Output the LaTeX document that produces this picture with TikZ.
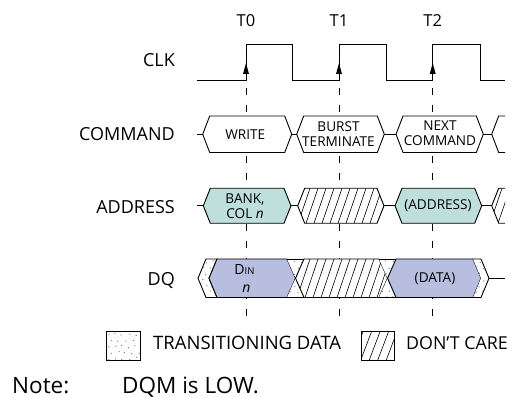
\documentclass[tikz,border=0pt]{standalone}
\usepackage{fontspec}
\setmainfont{Open Sans}
\definecolor{addrfill}{HTML}{BEDFDC}
\definecolor{datafill}{HTML}{B8BEDF}
\definecolor{dotc}{HTML}{7A7A7A}
\newcommand\dotsin[4]{%
  \foreach \ii in {0,...,#3}{\foreach \jj in {0,...,#4}{%
    \pgfmathsetmacro\xx{#1+\ii*7+mod(\jj,2)*3.5+rand*1.2}%
    \pgfmathsetmacro\yy{#2+\jj*6+rand*1.2}%
    \fill[dotc] (\xx,\yy) circle (0.65);}}}
\begin{document}
\begin{tikzpicture}[x=1pt,y=-1pt,
  sig/.style={line width=0.9pt,line join=miter},
  hatchln/.style={line width=0.6pt},
  tline/.style={line width=0.8pt,dash pattern=on 7pt off 10pt},
  lab/.style={inner sep=0pt,font=\fontsize{18}{20}\selectfont},
  tlab/.style={inner sep=0pt,font=\fontsize{16.5}{18}\selectfont},
  intext/.style={inner sep=0pt,align=center,font=\fontsize{13.6}{15}\selectfont},
  leg/.style={inner sep=0pt,font=\fontsize{18.5}{20}\selectfont},
  notetext/.style={inner sep=0pt,font=\fontsize{22.5}{24}\selectfont}]
\useasboundingbox (0,0) rectangle (517,398);
\pgfmathsetseed{11}

% time labels
\node[tlab] (t0) at (246,20.8) {T0};
\node[tlab] (t1) at (339,20.8) {T1};
\node[tlab] (t2) at (432.7,20.8) {T2};

% signal labels
\node[lab,anchor=base east] (clk) at (175,66.4) {CLK};
\node[lab,anchor=base east] (cmd) at (175,140.6) {COMMAND};
\node[lab,anchor=base east] (addr) at (175,213.1) {ADDRESS};
\node[lab,anchor=base east] (dq) at (175,285.7) {DQ};

% dashed time lines
\draw[tline] (246,88) -- (246,325);
\draw[tline] (339,88) -- (339,325);
\draw[tline] (432.7,88) -- (432.7,325);

% clock
\draw[sig] (196.7,80) -- (246,80) -- (246,44.3) -- (292.3,44.3) -- (292.3,80)
  -- (339,80) -- (339,44.3) -- (386,44.3) -- (386,80)
  -- (432.7,80) -- (432.7,44.3) -- (480,44.3) -- (480,80) -- (505,80);
\fill (246,63) -- (243,74) -- (249,74) -- cycle;
\fill (339,63) -- (336,74) -- (342,74) -- cycle;
\fill (432.7,63) -- (429.7,74) -- (435.7,74) -- cycle;

% COMMAND row
\draw[sig] (196.7,134.25) -- (202.7,134.25);
\draw[sig,fill=white] (202.7,134.25) -- (209.7,116) -- (284.7,116) -- (291.7,134.25) -- (284.7,152.5) -- (209.7,152.5) -- cycle;
\draw[sig] (291.7,134.25) -- (296.7,134.25);
\draw[sig,fill=white] (296.7,134.25) -- (303.7,116) -- (377.3,116) -- (384.3,134.25) -- (377.3,152.5) -- (303.7,152.5) -- cycle;
\draw[sig] (384.3,134.25) -- (396,134.25);
\draw[sig,fill=white] (396,134.25) -- (403,116) -- (476.3,116) -- (483.3,134.25) -- (476.3,152.5) -- (403,152.5) -- cycle;
\draw[sig] (483.3,134.25) -- (491.7,134.25);
\draw[sig] (505,116) -- (498.7,116) -- (491.7,134.25) -- (498.7,152.5) -- (505,152.5);
\node[intext] (write) at (245.3,134.25) {WRITE};
\node[intext] (bt) at (338.5,133.6) {BURST\\TERMINATE};
\node[intext] (nc) at (440,133.6) {NEXT\\COMMAND};

% ADDRESS row
\draw[sig] (196.7,205.8) -- (203.3,205.8);
\draw[sig,fill=addrfill] (203.3,205.8) -- (210.3,188.3) -- (284,188.3) -- (291,205.8) -- (284,223.3) -- (210.3,223.3) -- cycle;
\draw[sig] (291,205.8) -- (297.7,205.8);
\fill[white] (297.7,205.8) -- (304.7,188.3) -- (377,188.3) -- (384,205.8) -- (377,223.3) -- (304.7,223.3) -- cycle;
\begin{scope}
  \clip (297.7,205.8) -- (304.7,188.3) -- (377,188.3) -- (384,205.8) -- (377,223.3) -- (304.7,223.3) -- cycle;
  \foreach \k in {282,290,...,386} \draw[hatchln] (\k,223.3) -- (\k+12,188.3);
\end{scope}
\draw[sig] (297.7,205.8) -- (304.7,188.3) -- (377,188.3) -- (384,205.8) -- (377,223.3) -- (304.7,223.3) -- cycle;
\draw[sig] (384,205.8) -- (395,205.8);
\draw[sig,fill=addrfill] (395,205.8) -- (402,188.3) -- (474.7,188.3) -- (481.7,205.8) -- (474.7,223.3) -- (402,223.3) -- cycle;
\draw[sig] (481.7,205.8) -- (491.7,205.8);
\fill[white] (505,188.3) -- (498.7,188.3) -- (491.7,205.8) -- (498.7,223.3) -- (505,223.3) -- cycle;
\begin{scope}
  \clip (505,188.3) -- (498.7,188.3) -- (491.7,205.8) -- (498.7,223.3) -- (505,223.3) -- cycle;
  \foreach \k in {482,490,498} \draw[hatchln] (\k,223.3) -- (\k+12,188.3);
\end{scope}
\draw[sig] (505,188.3) -- (498.7,188.3) -- (491.7,205.8) -- (498.7,223.3) -- (505,223.3);
\node[intext] (bank) at (245,206) {BANK,\\COL \textit{n}};
\node[intext] (addrtxt) at (438,205.8) {(ADDRESS)};

% DQ row
% left transitioning chevron
\fill[white] (198,278.25) -- (206,259) -- (217,259) -- (209,278.25) -- (217,297.5) -- (206,297.5) -- cycle;
\begin{scope}
  \clip (198,278.25) -- (206,259) -- (217,259) -- (209,278.25) -- (217,297.5) -- (206,297.5) -- cycle;
  \dotsin{199}{262}{2}{6}
\end{scope}
\draw[sig] (198,278.25) -- (206,259) -- (217,259) -- (209,278.25) -- (217,297.5) -- (206,297.5) -- cycle;
% Din
\draw[sig,fill=datafill] (209,278.25) -- (217,259) -- (287,259) -- (295.5,278.25) -- (287,297.5) -- (217,297.5) -- cycle;
% X1 transition
\fill[white] (287,259) -- (304,259) -- (295.5,278.25) -- cycle (287,297.5) -- (304,297.5) -- (295.5,278.25) -- cycle;
\begin{scope}
  \clip (287,259) -- (304,259) -- (295.5,278.25) -- cycle (287,297.5) -- (304,297.5) -- (295.5,278.25) -- cycle;
  \dotsin{287}{262}{2}{6}
\end{scope}
% hatched
\fill[white] (295.5,278.25) -- (304,259) -- (379,259) -- (387.5,278.25) -- (379,297.5) -- (304,297.5) -- cycle;
\begin{scope}
  \clip (295.5,278.25) -- (304,259) -- (379,259) -- (387.5,278.25) -- (379,297.5) -- (304,297.5) -- cycle;
  \foreach \k in {281,289,...,389} \draw[hatchln] (\k,297.5) -- (\k+13,259);
\end{scope}
\draw[sig] (295.5,278.25) -- (304,259) -- (379,259) -- (387.5,278.25) -- (379,297.5) -- (304,297.5) -- cycle;
% X2 transition
\fill[white] (379,259) -- (396,259) -- (387.5,278.25) -- cycle (379,297.5) -- (396,297.5) -- (387.5,278.25) -- cycle;
\begin{scope}
  \clip (379,259) -- (396,259) -- (387.5,278.25) -- cycle (379,297.5) -- (396,297.5) -- (387.5,278.25) -- cycle;
  \dotsin{379}{262}{2}{6}
\end{scope}
% DATA
\draw[sig,fill=datafill] (387.5,278.25) -- (396,259) -- (473,259) -- (481,278.25) -- (473,297.5) -- (396,297.5) -- cycle;
\draw[sig] (287,259) -- (304,259) (287,297.5) -- (304,297.5) (379,259) -- (396,259) (379,297.5) -- (396,297.5);
% right transitioning chevron
\fill[white] (473,259) -- (481,259) -- (489,278.25) -- (481,297.5) -- (473,297.5) -- (481,278.25) -- cycle;
\begin{scope}
  \clip (473,259) -- (481,259) -- (489,278.25) -- (481,297.5) -- (473,297.5) -- (481,278.25) -- cycle;
  \dotsin{473}{262}{2}{6}
\end{scope}
\draw[sig] (473,259) -- (481,259) -- (489,278.25) -- (481,297.5) -- (473,297.5);
\draw[sig] (489,278.25) -- (505,278.25);
\node[inner sep=0pt,anchor=base,font=\fontsize{14}{15}\selectfont] (din) at (244.5,275) {D{\fontsize{9.5}{10}\selectfont IN}};
\node[inner sep=0pt,anchor=base,font=\fontsize{14}{15}\selectfont] (dinn) at (246.5,293) {\textit{n}};
\node[intext] (datatxt) at (435,278.3) {(DATA)};

% legend
\fill[white] (106,331.7) rectangle (140.7,360.7);
\begin{scope}
  \clip (106,331.7) rectangle (140.7,360.7);
  \dotsin{108}{334.5}{4}{4}
\end{scope}
\draw[line width=0.8pt] (106,331.7) rectangle (140.7,360.7);
\node[leg,anchor=base west] (legtd) at (153,349.6) {TRANSITIONING DATA};
\begin{scope}
  \clip (361,331.7) rectangle (394,360.7);
  \foreach \k in {352,360.5,...,394} \draw[hatchln] (\k,360.7) -- (\k+11,331.7);
\end{scope}
\draw[line width=0.8pt] (361,331.7) rectangle (394,360.7);
\node[leg,anchor=base west,font=\fontsize{17.8}{20}\selectfont] (legdc) at (406,349.6) {DON’T CARE};

% note
\node[notetext,anchor=base west] (note) at (12,393) {Note:};
\node[notetext,anchor=base west] (notet) at (122,393) {DQM is LOW.};
\end{tikzpicture}
\end{document}
